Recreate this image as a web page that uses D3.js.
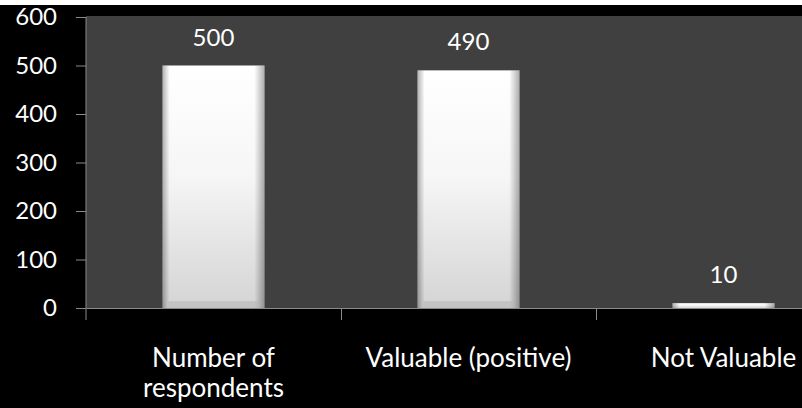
<!DOCTYPE html>
<html><head><meta charset="utf-8">
<script src="https://cdn.jsdelivr.net/npm/d3@7"></script>
<style>
html,body{margin:0;padding:0;background:#000;overflow:hidden;}
svg{display:block;}
</style></head>
<body>
<script>
const categories = [["Number of","respondents"], ["Valuable (positive)"], ["Not Valuable"]];
const values = [500, 490, 10];
const yTicks = [0, 100, 200, 300, 400, 500, 600];

const W = 802, H = 408;
const m = {left: 86, top: 17, bottom: 100};
const plotRight = 851;
const svg = d3.select("body").append("svg").attr("width", W).attr("height", H);
const FONT = "Lato, 'Open Sans', sans-serif";

svg.append("rect").attr("width", W).attr("height", H).attr("fill", "#000");
svg.append("rect").attr("width", W).attr("height", 5).attr("fill", "#fff");

const x = d3.scaleBand().domain(d3.range(categories.length)).range([m.left, plotRight]).paddingInner(0).paddingOuter(0);
const y = d3.scaleLinear().domain([0, 600]).range([308, m.top]);

// plot area
svg.append("rect").attr("x", m.left).attr("y", y(600) - 1).attr("width", plotRight - m.left)
  .attr("height", y(0) - y(600) + 1).attr("fill", "#404040");

const defs = svg.append("defs");
const gV = defs.append("linearGradient").attr("id", "gv").attr("x1", 0).attr("y1", 0).attr("x2", 0).attr("y2", 1);
gV.append("stop").attr("offset", "0%").attr("stop-color", "#ffffff");
gV.append("stop").attr("offset", "45%").attr("stop-color", "#f6f6f6");
gV.append("stop").attr("offset", "100%").attr("stop-color", "#d4d4d4");
const gH = defs.append("linearGradient").attr("id", "gh").attr("x1", 0).attr("y1", 0).attr("x2", 1).attr("y2", 0);
gH.append("stop").attr("offset", "0%").attr("stop-color", "#000").attr("stop-opacity", 0.3);
gH.append("stop").attr("offset", "7%").attr("stop-color", "#000").attr("stop-opacity", 0.0);
gH.append("stop").attr("offset", "90%").attr("stop-color", "#000").attr("stop-opacity", 0.0);
gH.append("stop").attr("offset", "100%").attr("stop-color", "#000").attr("stop-opacity", 0.32);

const bw = x.bandwidth() * 0.4;
const bars = svg.append("g").selectAll("g").data(values).join("g");
bars.append("rect")
  .attr("x", (d, i) => x(i) + (x.bandwidth() - bw) / 2)
  .attr("y", d => y(d)).attr("width", bw).attr("height", d => y(0) - y(d))
  .attr("fill", "url(#gv)");
bars.append("rect")
  .attr("x", (d, i) => x(i) + (x.bandwidth() - bw) / 2)
  .attr("y", d => y(d)).attr("width", bw).attr("height", d => y(0) - y(d))
  .attr("fill", "url(#gh)");
// bottom bevel
bars.filter(d => y(0) - y(d) > 20).append("rect")
  .attr("x", (d, i) => x(i) + (x.bandwidth() - bw) / 2 + 6)
  .attr("y", d => y(0) - 7).attr("width", bw - 12).attr("height", 7)
  .attr("fill", "#b8b8b8").attr("opacity", 0.6);

// value labels
svg.append("g").selectAll("text").data(values).join("text")
  .attr("x", (d, i) => x(i) + x.bandwidth() / 2)
  .attr("y", d => y(d) - 20)
  .attr("text-anchor", "middle").attr("fill", "#fff")
  .attr("font-family", FONT).attr("font-size", 24).text(d => d);

// y axis
const yAxis = svg.append("g").attr("transform", `translate(${m.left},0)`)
  .call(d3.axisLeft(y).tickValues(yTicks).tickSize(10).tickPadding(19).tickSizeOuter(0));
yAxis.select(".domain").attr("stroke", "#8a8a8a").attr("d", `M0,${y(600)}V${y(0) + 12}`);
yAxis.selectAll(".tick line").attr("stroke", "#8a8a8a");
yAxis.selectAll(".tick text").attr("fill", "#fff").attr("font-family", FONT).attr("font-size", 24);

// x axis
const xAxis = svg.append("g").attr("transform", `translate(0,${y(0)})`)
  .call(d3.axisBottom(d3.scaleLinear().domain([0, 3]).range([m.left, plotRight])).tickValues([1, 2]).tickSize(12).tickSizeOuter(0).tickFormat(""));
xAxis.select(".domain").attr("stroke", "#8a8a8a");
xAxis.selectAll(".tick line").attr("stroke", "#8a8a8a");

const lbl = svg.append("g").selectAll("text").data(categories).join("text")
  .attr("x", (d, i) => x(i) + x.bandwidth() / 2)
  .attr("y", 367)
  .attr("text-anchor", "middle").attr("fill", "#fff")
  .attr("font-family", FONT).attr("font-size", 26);
lbl.selectAll("tspan").data(d => d).join("tspan")
  .attr("x", function() { return this.parentNode.getAttribute("x"); })
  .attr("dy", (d, i) => i === 0 ? 0 : 30).text(d => d);
</script>
</body></html>
